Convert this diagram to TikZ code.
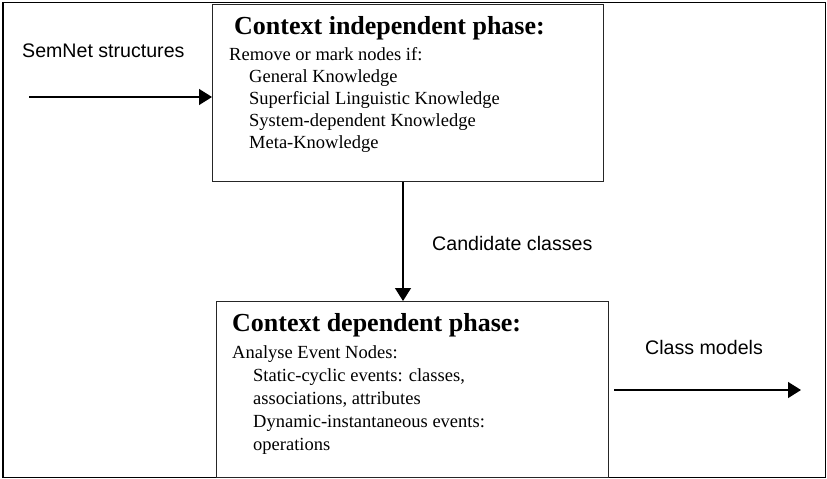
\documentclass[tikz,border=0pt]{standalone}
\usepackage{fontspec}
\setmainfont{Liberation Serif}
\newfontfamily\arialfont{Liberation Sans}
\usetikzlibrary{arrows.meta}
\tikzset{
  x=1pt,y=1pt,
  phasebox/.style={draw=black!85,line width=1.4pt,minimum width=#1,inner sep=0pt,anchor=north west},
  arr/.style={line width=1.3pt,-{Triangle[length=13pt,width=16pt]}},
  lbl/.style={font=\arialfont\fontsize{19.6}{22}\selectfont,anchor=west,inner sep=0pt},
  body/.style={anchor=north west,align=left,inner sep=0pt}
}
\begin{document}
\begin{tikzpicture}
\useasboundingbox (0,0) rectangle (827,-479);
\draw[line width=1.9pt] (3,-2.5) rectangle (825.5,-477.5);
% boxes
\node[phasebox=391pt,minimum height=177pt] (ind) at (212,-4) {};
\node[phasebox=392pt,minimum height=176pt] (dep) at (216,-301) {};
% box texts
\node[body,font=\fontsize{18.5}{22}\selectfont] (indtext) at ([shift={(17pt,-12pt)}]ind.north west)
  {\hspace*{5pt}{\bfseries\fontsize{26}{26}\selectfont Context independent phase:}\\[4pt]
   Remove or mark nodes if:\\
   \hspace*{20pt}General Knowledge\\
   \hspace*{20pt}Superficial Linguistic Knowledge\\
   \hspace*{20pt}System-dependent Knowledge\\
   \hspace*{20pt}Meta-Knowledge};
\node[body,font=\fontsize{18.5}{23.1}\selectfont] (deptext) at ([shift={(16pt,-12pt)}]dep.north west)
  {{\bfseries\fontsize{26}{26}\selectfont Context dependent phase:}\\[4pt]
   Analyse Event Nodes:\\
   \hspace*{21pt}Static-cyclic events: classes,\\
   \hspace*{21pt}associations, attributes\\
   \hspace*{21pt}Dynamic-instantaneous events:\\
   \hspace*{21pt}operations};
% connectors
\coordinate (s1) at (29,-97);
\coordinate (vx) at (403,0);
\coordinate (e1) at (614,-390);
\coordinate (e2) at (801,-390);
\draw[arr] (s1) -- (s1 -| ind.west);
\draw[arr] (vx |- ind.south) -- (vx |- dep.north);
\draw[arr] (e1) -- (e2);
% labels
\node[lbl] (semnet) at (22,-51) {SemNet structures};
\node[lbl] (cand) at (432,-243) {Candidate classes};
\node[lbl] (cmod) at (645,-347) {Class models};
\end{tikzpicture}
\end{document}
